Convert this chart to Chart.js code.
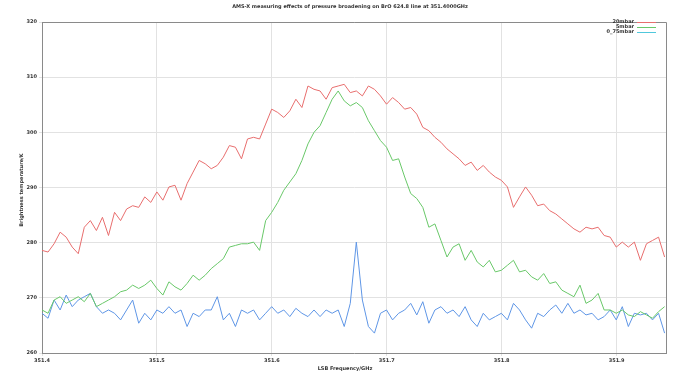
<!DOCTYPE html>
<html><head><meta charset="utf-8">
<script src="https://cdn.jsdelivr.net/npm/chart.js@4"></script>
<style>html,body{margin:0;padding:0;background:#fff;}canvas{display:block;}</style>
</head><body>
<canvas id="c" width="674" height="373"></canvas>
<script>
const titleText = "AMS-X measuring effects of pressure broadening on BrO 624.8 line at 351.4000GHz";
const xTitle = "LSB Frequency/GHz";
const yTitle = "Brightness temperature/K";
const seriesNames = ["20mbar", "5mbar", "0_75mbar"];
const xTickLabels = ["351.4", "351.5", "351.6", "351.7", "351.8", "351.9"];
const yTickLabels = ["260", "270", "280", "290", "300", "310", "320"];
const freqStart = 351.4;
const freqStep = 0.00526;

const red = [278.6,278.3,279.8,281.9,281.0,279.2,278.0,282.8,284.0,282.2,
284.6,281.3,285.5,284.0,286.1,286.7,286.4,288.3,287.3,289.2,
287.7,290.1,290.4,287.7,290.7,292.8,294.9,294.3,293.4,294.0,
295.5,297.6,297.3,295.2,298.8,299.1,298.8,301.5,304.2,303.6,
302.7,303.9,306.0,304.5,308.4,307.8,307.5,306.0,308.1,308.4,
308.7,307.2,307.5,306.6,308.4,307.8,306.6,305.1,306.3,305.4,
304.2,304.5,303.3,300.9,300.3,299.1,298.2,297.0,296.1,295.2,
294.0,294.6,293.1,294.0,292.8,291.9,291.3,290.1,286.4,288.3,
290.1,288.6,286.7,287.0,285.8,285.2,284.3,283.4,282.5,281.9,
282.8,282.5,282.8,281.3,281.0,279.2,280.1,279.2,280.1,276.8,
279.8,280.4,281.0,277.4];

const green = [267.8,267.2,269.6,270.2,269.0,269.6,270.2,269.3,270.8,268.4,
269.0,269.6,270.2,271.1,271.4,272.3,271.7,272.3,273.2,271.7,
270.5,272.9,272.0,271.4,272.6,274.1,273.2,274.1,275.3,276.2,
277.1,279.2,279.5,279.8,279.8,280.1,278.6,284.0,285.5,287.3,
289.5,291.0,292.5,294.9,297.9,300.0,301.2,303.6,306.0,307.5,
305.7,304.8,305.4,304.5,302.1,300.3,298.5,297.3,294.9,295.2,
291.9,288.9,288.0,286.4,282.8,283.4,280.4,277.4,279.2,279.8,
276.8,278.6,276.5,275.6,276.8,274.7,275.0,275.9,276.8,274.7,
275.0,273.8,273.2,274.4,272.6,272.9,271.4,270.8,270.2,272.3,
269.0,269.6,270.8,267.8,267.8,267.2,267.8,266.9,266.6,267.5,
266.9,266.3,267.5,268.4];

const blue = [267.2,266.3,269.6,267.8,270.5,268.4,269.6,270.2,270.8,268.4,
267.2,267.8,267.2,266.0,267.8,269.6,265.4,267.2,266.0,267.8,
267.2,268.4,267.2,267.8,264.8,267.2,266.6,267.8,267.8,270.2,
266.0,267.2,264.8,267.8,267.2,267.8,266.0,267.2,268.4,267.2,
267.8,266.6,268.1,267.2,266.6,267.8,266.6,267.8,267.2,267.8,
264.8,269.0,280.1,269.6,264.8,263.6,267.2,267.8,266.0,267.2,
267.8,269.0,266.9,269.3,265.4,267.8,268.4,267.2,267.8,266.6,
268.4,266.0,264.8,267.2,266.0,266.6,267.2,266.0,269.0,267.8,
266.0,264.5,267.2,266.6,267.8,268.7,267.2,269.0,267.2,267.8,
266.9,267.2,266.0,266.6,267.8,266.0,268.4,264.8,267.2,266.9,
267.2,266.0,267.2,263.6];

const colors = ["rgb(232,110,110)", "rgb(105,200,105)", "rgb(95,150,230)"];
const legendColors = ["rgb(232,110,110)", "rgb(105,200,105)", "rgb(80,200,220)"];
const FONT = "DejaVu Sans";

function toPts(arr){ return arr.map((v,i)=>({x: freqStart + i*freqStep, y: v})); }

const decor = {
  id: 'decor',
  afterDraw(chart){
    const ctx = chart.ctx, a = chart.chartArea;
    ctx.save();
    // top & right border
    ctx.strokeStyle = '#8a8a8a'; ctx.lineWidth = 1;
    ctx.beginPath();
    ctx.moveTo(a.left, a.top+0.5); ctx.lineTo(a.right+0.5, a.top+0.5); ctx.lineTo(a.right+0.5, a.bottom);
    ctx.stroke();
    // title
    ctx.fillStyle = '#333';
    ctx.font = 'bold 5px ' + FONT;
    ctx.textAlign = 'center'; ctx.textBaseline = 'middle';
    ctx.fillText(titleText, 350, 7);
    // x title
    ctx.fillText(xTitle, 345, 369);
    // y title
    ctx.save();
    ctx.translate(22, 190); ctx.rotate(-Math.PI/2);
    ctx.fillText(yTitle, 0, 0);
    ctx.restore();
    // legend
    ctx.textAlign = 'right';
    const ys = [22, 27, 32];
    seriesNames.forEach((n,i)=>{
      ctx.fillStyle = '#333';
      ctx.fillText(n, 634, ys[i]);
      ctx.strokeStyle = legendColors[i];
      ctx.beginPath(); ctx.moveTo(637, ys[i]+0.5); ctx.lineTo(656, ys[i]+0.5); ctx.stroke();
    });
    ctx.restore();
  }
};

new Chart(document.getElementById('c'), {
  type: 'line',
  data: {
    datasets: [
      {label: seriesNames[0], data: toPts(red), borderColor: colors[0]},
      {label: seriesNames[1], data: toPts(green), borderColor: colors[1]},
      {label: seriesNames[2], data: toPts(blue), borderColor: colors[2]}
    ].map(d=>Object.assign(d,{borderWidth:1, pointRadius:0, fill:false, tension:0}))
  },
  options: {
    responsive: false, animation: false,
    layout: {padding: {top: 22, right: 8, left: 0, bottom: 0}},
    plugins: {legend: {display: false}, title: {display: false}, tooltip: {enabled: false}},
    scales: {
      x: {
        type: 'linear', min: 351.4, max: 351.943,
        afterFit(s){ s.height = 20; },
        afterBuildTicks(s){ s.ticks = xTickLabels.map(t=>({value: parseFloat(t)})); },
        ticks: {callback: (v)=>{ const i = xTickLabels.findIndex(t=>Math.abs(parseFloat(t)-v)<1e-6); return i>=0 ? xTickLabels[i] : ''; },
                font: {family: FONT, size: 5, weight: 'bold'}, color: '#333', padding: 2, maxRotation: 0},
        grid: {color: '#e2e2e2', tickLength: 3, drawTicks: true},
        border: {color: '#8a8a8a'}
      },
      y: {
        min: 260, max: 320,
        afterFit(s){ s.width = 42; },
        afterBuildTicks(s){ s.ticks = yTickLabels.map(t=>({value: parseFloat(t)})); },
        ticks: {callback: (v)=>{ const i = yTickLabels.findIndex(t=>Math.abs(parseFloat(t)-v)<1e-6); return i>=0 ? yTickLabels[i] : ''; },
                font: {family: FONT, size: 5, weight: 'bold'}, color: '#333', padding: 2},
        grid: {color: '#e2e2e2', tickLength: 3},
        border: {color: '#8a8a8a'}
      }
    }
  },
  plugins: [decor]
});
</script>
</body></html>
